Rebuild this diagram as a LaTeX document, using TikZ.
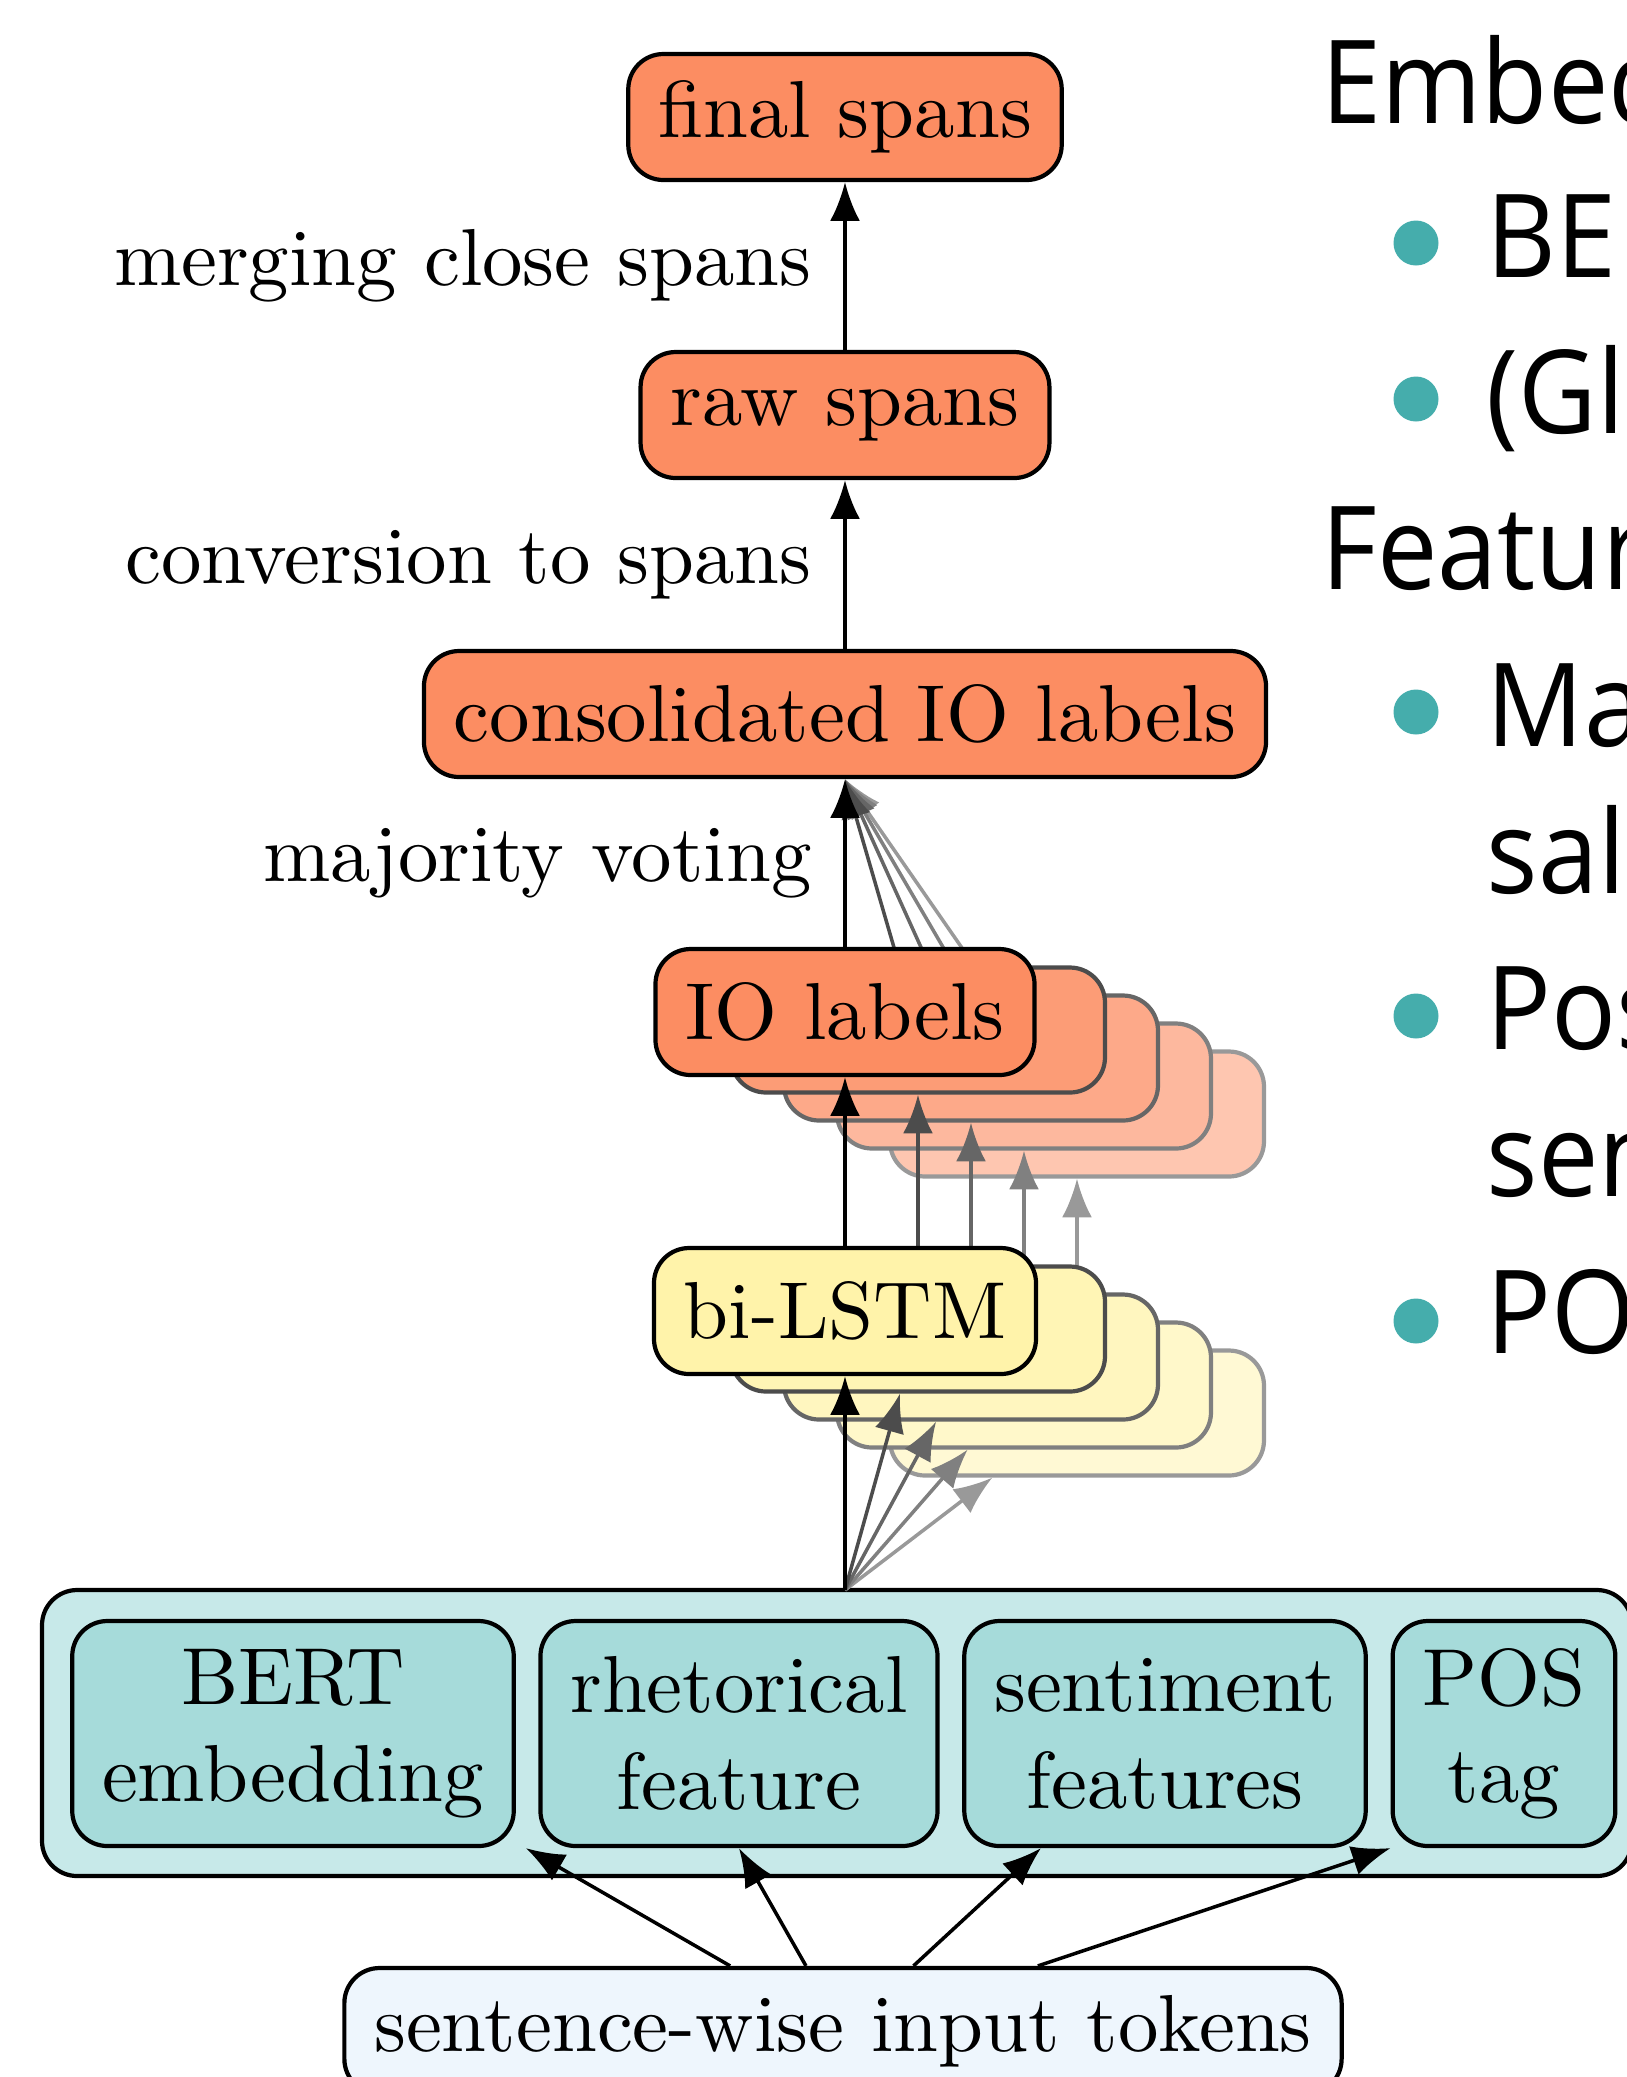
\documentclass[tikz,border=0pt]{standalone}
\usepackage{fontspec}
\setmainfont{lmroman10-regular.otf}
\newfontfamily\slidefont{Open Sans}[FakeStretch=0.93]
\usetikzlibrary{calc,arrows.meta}

\definecolor{spanfill}{RGB}{252,141,98}
\definecolor{lstmfill}{RGB}{255,243,170}
\definecolor{featfill}{RGB}{166,219,218}
\definecolor{groupfill}{RGB}{199,233,233}
\definecolor{tokfill}{RGB}{238,246,253}
\definecolor{dotteal}{RGB}{69,173,172}

\tikzset{
	box/.style={draw, line width=1.2pt, rounded corners=10pt, inner xsep=8.5pt, minimum height=1.26cm, font=\fontsize{23}{27.6}\selectfont},
	spanbox/.style={box, fill=spanfill},
	lstmbox/.style={box, fill=lstmfill},
	featbox/.style={box, fill=featfill, align=center, minimum height=2.25cm},
	ghost/.style={draw, line width=1.2pt, rounded corners=10pt, minimum width=3.74cm, minimum height=1.25cm},
	arr/.style={-{Latex[length=11pt,width=8.5pt]}, line width=1pt},
	steplabel/.style={midway, left, inner sep=9pt, font=\fontsize{23}{27.6}\selectfont},
	slide/.style={anchor=base west, inner sep=0pt, font=\slidefont\fontsize{33}{40}\selectfont},
	dot/.style={circle, fill=dotteal, inner sep=0pt, minimum size=0.45cm},
}

\begin{document}
\begin{tikzpicture}
	\useasboundingbox (0,0) rectangle (16.27,-20.77);

	\node[spanbox] at (8.45,-1.17) (final) {final spans};
	\node[spanbox] at (8.45,-4.15) (raw) {raw spans};
	\node[spanbox] at (8.45,-7.14) (cons) {consolidated IO labels};
	\draw[arr] (raw) -- node[steplabel] {merging close spans} (final);
	\draw[arr] (cons) -- node[steplabel] {conversion to spans} (raw);

	\node[box, fill=groupfill, minimum width=15.90cm, minimum height=2.86cm] at (8.37,-17.33) (group) {};
	\node[featbox] at (2.93,-17.335) (bert) {BERT\\embedding};
	\node[featbox] at (7.39,-17.335) (rhet) {rhetorical\\feature};
	\node[featbox] at (11.65,-17.335) (senti) {sentiment\\features};
	\node[featbox] at (15.04,-17.335) (pos) {POS\\tag};
	\node[box, fill=tokfill] at (8.43,-20.31) (tokens) {sentence-wise input tokens};
	\draw[arr] (tokens) -- ([xshift=0.1cm]bert.south east);
	\draw[arr] (tokens) -- (rhet.south);
	\draw[arr] (tokens) -- (senti);
	\draw[arr] (tokens) -- (pos.south west);

	\coordinate (base) at (8.45,-15.90);
	% stacked copies, back to front
	\foreach \k/\pct/\gry in {4/50/40, 3/62/50, 2/75/60, 1/87/70} {
		\node[ghost, fill=lstmfill!\pct, draw=black!\gry] at ({8.65+0.53*\k},{-13.01-0.28*\k}) (lstm\k) {};
		\node[ghost, fill=spanfill!\pct, draw=black!\gry] at ({8.65+0.53*\k},{-10.02-0.28*\k}) (io\k) {};
		\draw[arr, black!\gry] (base) -- (lstm\k);
		\draw[arr, black!\gry] (lstm\k) -- (io\k);
		\draw[arr, black!\gry] (io\k) -- (cons.south);
	}

	\node[lstmbox] at (8.45,-13.11) (lstm) {bi-LSTM};
	\node[spanbox] at (8.45,-10.12) (io) {IO labels};
	\draw[arr] (base) -- (lstm);
	\draw[arr] (lstm) -- (io);
	\draw[arr] (io) -- node[steplabel] {majority voting} (cons);

	% slide text on the right
	\node[slide] at (13.21,-1.23) (embhead) {Embed};
	\node[dot] at (14.16,-2.43) (dot1) {};
	\node[slide] at (14.86,-2.77) (item1) {BE};
	\node[dot] at (14.16,-3.99) (dot2) {};
	\node[slide] at (14.86,-4.33) (item2) {(Gl};
	\node[slide] at (13.21,-5.89) (feathead) {Featur};
	\node[dot] at (14.16,-7.12) (dot3) {};
	\node[slide] at (14.86,-7.46) (item3) {Ma};
	\node[slide] at (14.86,-8.93) (item3b) {sali};
	\node[dot] at (14.16,-10.16) (dot4) {};
	\node[slide] at (14.86,-10.49) (item4) {Pos};
	\node[slide] at (14.86,-11.96) (item4b) {sen};
	\node[dot] at (14.16,-13.21) (dot5) {};
	\node[slide] at (14.86,-13.53) (item5) {PO};
\end{tikzpicture}
\end{document}
